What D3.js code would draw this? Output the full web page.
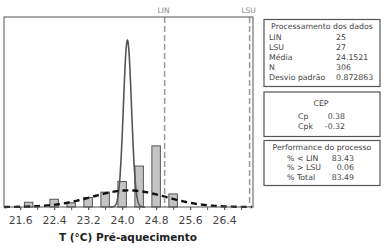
<!DOCTYPE html>
<html>
<head>
<meta charset="utf-8">
<script src="https://cdn.jsdelivr.net/npm/d3@7"></script>
<style>
  body { margin: 0; background: #fff; }
  text { font-family: "DejaVu Sans", Verdana, sans-serif; }
</style>
</head>
<body>
<script>
var width = 389;
var height = 250;

// histogram (bin centres, counts), bin width 0.2
var binCenters = [21.8, 22.4, 22.8, 23.2, 23.6, 24.0, 24.4, 24.8, 25.2];
var binCounts = [8, 13, 7, 16, 25, 43, 69, 103, 22];
var binWidth = 0.2;

var tickValues = [21.6, 22.4, 23.2, 24.0, 24.8, 25.6, 26.4];
var minorTicks = [21.6, 22.0, 22.4, 22.8, 23.2, 23.6, 24.0, 24.4, 24.8, 25.2, 25.6, 26.0, 26.4, 26.8];
var specNames = ["LIN", "LSU"];
var specValues = [25, 27];

// fitted curves
var nTotal = 306;
var meanAll = 24.1521;
var sdAll = 0.872863;
var meanNarrow = 24.125;
var sdNarrow = 0.095;
var peakNarrow = 281;

var statLabels = ["LIN", "LSU", "Média", "N", "Desvio padrão"];
var statValues = ["25", "27", "24.1521", "306", "0.872863"];
var cepLabels = ["Cp", "Cpk"];
var cepValues = ["0.38", "-0.32"];
var perfLabels = ["% < LIN", "% > LSU", "% Total"];
var perfValues = ["83.43", "0.06", "83.49"];

var svg = d3.select("body").append("svg")
    .attr("width", width)
    .attr("height", height);

var x = d3.scaleLinear().domain([21.22, 27.08]).range([4, 253]);
var y = d3.scaleLinear().domain([0, 320]).range([207, 17]);

// bars
svg.selectAll("rect.bar")
    .data(binCenters)
    .enter().append("rect")
        .attr("class", "bar")
        .attr("x", function(d) { return x(d - binWidth / 2); })
        .attr("width", function(d) { return x(d + binWidth / 2) - x(d - binWidth / 2); })
        .attr("y", function(d, i) { return y(binCounts[i]); })
        .attr("height", function(d, i) { return y(0) - y(binCounts[i]); })
        .attr("fill", "#c4c4c4")
        .attr("stroke", "#555")
        .attr("stroke-width", 1);

var line = d3.line()
    .x(function(d) { return x(d[0]); })
    .y(function(d) { return y(d[1]); });

function fAll(v) {
    return nTotal * binWidth * Math.exp(-0.5 * Math.pow((v - meanAll) / sdAll, 2)) / (sdAll * Math.sqrt(2 * Math.PI));
}
function fNar(v) {
    return peakNarrow * Math.exp(-0.5 * Math.pow((v - meanNarrow) / sdNarrow, 2));
}
var ptsAll = d3.range(21.22, 27.08, 0.02).map(function(v) { return [v, fAll(v)]; });
var ptsNar = d3.range(meanNarrow - 0.42, meanNarrow + 0.42, 0.005).map(function(v) { return [v, fNar(v)]; });

svg.append("path")
    .attr("d", line(ptsNar))
    .attr("fill", "none")
    .attr("stroke", "#555")
    .attr("stroke-width", 1.6);

svg.append("path")
    .attr("d", line(ptsAll))
    .attr("fill", "none")
    .attr("stroke", "#111")
    .attr("stroke-width", 2.4)
    .attr("stroke-dasharray", "6,4");

// spec limits
svg.selectAll("line.spec")
    .data(specValues)
    .enter().append("line")
        .attr("x1", function(d) { return x(d); })
        .attr("x2", function(d) { return x(d); })
        .attr("y1", 17)
        .attr("y2", 207)
        .attr("stroke", "#999")
        .attr("stroke-width", 1.5)
        .attr("stroke-dasharray", "6,3");

svg.selectAll("text.spec")
    .data(specValues)
    .enter().append("text")
        .attr("x", function(d) { return x(d) - 1; })
        .attr("y", 13)
        .attr("text-anchor", "middle")
        .attr("font-size", 7.5)
        .attr("fill", "#888")
        .text(function(d, i) { return specNames[i]; });

// frame
svg.append("rect")
    .attr("x", 4).attr("y", 17)
    .attr("width", 249).attr("height", 190)
    .attr("fill", "none")
    .attr("stroke", "#555")
    .attr("stroke-width", 1);

// x axis: minor ticks every 0.4, labels every 0.8
var gm = svg.append("g").attr("transform", "translate(0,207)")
    .call(d3.axisBottom(x).tickValues(minorTicks).tickFormat("").tickSize(3));
gm.select(".domain").remove();
gm.selectAll("line").attr("stroke", "#555");

var xAxis = d3.axisBottom(x).tickValues(tickValues).tickFormat(d3.format(".1f")).tickSize(3);
var gx = svg.append("g").attr("transform", "translate(0,207)").call(xAxis);
gx.select(".domain").remove();
gx.selectAll("line").attr("stroke", "#555");
gx.selectAll("text")
    .attr("font-size", 10.8)
    .attr("fill", "#444")
    .attr("dy", "1.05em")
    .style("font-family", "DejaVu Sans, Verdana, sans-serif");

svg.append("text")
    .attr("x", 128).attr("y", 241)
    .attr("text-anchor", "middle")
    .attr("font-size", 10.5)
    .attr("font-weight", "bold")
    .attr("fill", "#222")
    .text("T (°C) Pré-aquecimento");

// side tables
function box(y0, h) {
    svg.append("rect")
        .attr("x", 264).attr("y", y0)
        .attr("width", 116).attr("height", h)
        .attr("fill", "#fff")
        .attr("stroke", "#555")
        .attr("stroke-width", 1.2);
}
var fs = 7.8;

box(19.5, 67);
svg.append("text").attr("x", 322).attr("y", 28.8).attr("text-anchor", "middle")
    .attr("font-size", fs).attr("fill", "#444").text("Processamento dos dados");
svg.selectAll("text.sl").data(statLabels).enter().append("text")
    .attr("x", 269).attr("y", function(d, i) { return 40.3 + i * 9.8; })
    .attr("font-size", fs).attr("fill", "#444").text(function(d) { return d; });
svg.selectAll("text.sv").data(statValues).enter().append("text")
    .attr("x", 336).attr("y", function(d, i) { return 40.3 + i * 9.8; })
    .attr("font-size", fs).attr("fill", "#444").text(function(d) { return d; });

box(92, 44.5);
svg.append("text").attr("x", 321).attr("y", 106).attr("text-anchor", "middle")
    .attr("font-size", fs).attr("fill", "#444").text("CEP");
svg.selectAll("text.cl").data(cepLabels).enter().append("text")
    .attr("x", 298).attr("y", function(d, i) { return 118.5 + i * 10; })
    .attr("font-size", fs).attr("fill", "#444").text(function(d) { return d; });
svg.selectAll("text.cv").data(cepValues).enter().append("text")
    .attr("x", 345).attr("y", function(d, i) { return 118.5 + i * 10; })
    .attr("text-anchor", "end")
    .attr("font-size", fs).attr("fill", "#444").text(function(d) { return d; });

box(140.5, 45);
svg.append("text").attr("x", 322).attr("y", 150).attr("text-anchor", "middle")
    .attr("font-size", fs).attr("fill", "#444").text("Performance do processo");
svg.selectAll("text.pl").data(perfLabels).enter().append("text")
    .attr("x", 287).attr("y", function(d, i) { return 160.5 + i * 9.8; })
    .attr("font-size", fs).attr("fill", "#444").text(function(d) { return d; });
svg.selectAll("text.pv").data(perfValues).enter().append("text")
    .attr("x", 354).attr("y", function(d, i) { return 160.5 + i * 9.8; })
    .attr("text-anchor", "end")
    .attr("font-size", fs).attr("fill", "#444").text(function(d) { return d; });
</script>
</body>
</html>
